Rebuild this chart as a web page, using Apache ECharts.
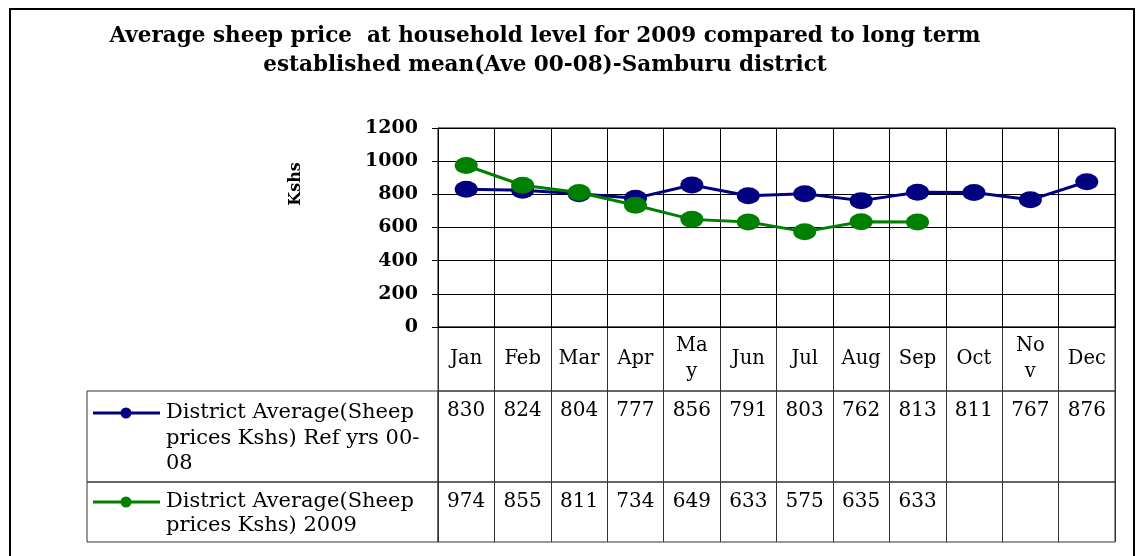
<!DOCTYPE html>
<html><head><meta charset="utf-8">
<script src="https://cdn.jsdelivr.net/npm/echarts@6/dist/echarts.min.js"></script>
<style>html,body{margin:0;padding:0;background:#fff}#c{width:1137px;height:556px}</style>
</head><body><div id="c"></div>
<script>
// ---- data ----
const months = ['Jan','Feb','Mar','Apr','May','Jun','Jul','Aug','Sep','Oct','Nov','Dec'];
const monthTickLabels = ['Jan','Feb','Mar','Apr','Ma\ny','Jun','Jul','Aug','Sep','Oct','No\nv','Dec'];
const refAvg = [830,824,804,777,856,791,803,762,813,811,767,876];
const avg2009 = [974,855,811,734,649,633,575,635,633,null,null,null];
const yTicks = [0,200,400,600,800,1000,1200];
const seriesNames = ['District Average(Sheep prices Kshs) Ref yrs 00-08','District Average(Sheep prices Kshs) 2009'];
const legendLabels = ['District Average(Sheep\nprices Kshs) Ref yrs 00-\n08','District Average(Sheep\nprices Kshs) 2009'];
const titleText = 'Average sheep price  at household level for 2009 compared to long term\nestablished mean(Ave 00-08)-Samburu district';
const yName = 'Kshs';

// ---- style ----
const SERIF = 'DejaVu Serif';
const BLUE = '#000080', GREEN = '#008000';
const GRID_C = '#000', TABLE_C = '#333';
const ELLIPSE = 'path://M50,0A50,50,0,1,1,50,100A50,50,0,1,1,50,0Z';
const PLOT = {left:438, width:677};

function tableAxis(gridIndex, labels, opts) {
  return Object.assign({
    gridIndex, type:'category', data: months, position:'top', boundaryGap:true,
    axisLine:{show:false}, axisTick:{show:false},
    axisLabel:{show:true, interval:0, inside:true, verticalAlign:'top', margin:10,
      fontFamily:SERIF, fontSize:20, color:'#000',
      formatter:(v,i)=> (labels[i]==null ? '' : String(labels[i]))},
    splitLine:{show:true, interval:0, lineStyle:{color:TABLE_C, width:1}}
  }, opts || {});
}

const chart = echarts.init(document.getElementById('c'), null, {renderer:'canvas'});
chart.setOption({
  animation:false,
  backgroundColor:'#fff',
  title:{
    text:titleText, left:545, top:22, textAlign:'center', padding:0,
    textStyle:{fontFamily:SERIF, fontWeight:'bold', fontSize:21.5, lineHeight:29, color:'#000'}
  },
  grid:[
    {left:PLOT.left, width:PLOT.width, top:128, height:199, show:true, borderColor:GRID_C, borderWidth:1},
    {left:PLOT.left, width:PLOT.width, top:327, height:64, show:true, borderColor:TABLE_C, borderWidth:1},
    {left:PLOT.left, width:PLOT.width, top:391, height:91, show:true, borderColor:TABLE_C, borderWidth:1},
    {left:PLOT.left, width:PLOT.width, top:482, height:60, show:true, borderColor:TABLE_C, borderWidth:1},
    {left:87, width:351, top:391, height:91, show:true, borderColor:TABLE_C, borderWidth:1},
    {left:87, width:351, top:482, height:60, show:true, borderColor:TABLE_C, borderWidth:1}
  ],
  xAxis:[
    {gridIndex:0, type:'category', data:months, boundaryGap:true,
     axisLine:{show:true, lineStyle:{color:GRID_C}}, axisTick:{show:false}, axisLabel:{show:false},
     splitLine:{show:true, interval:0, lineStyle:{color:GRID_C, width:1}}},
    tableAxis(1, monthTickLabels, {axisLabel:{show:true, interval:0, inside:true, verticalAlign:'middle', margin:32,
      fontFamily:SERIF, fontSize:19.5, color:'#000', lineHeight:26, formatter:(v,i)=>monthTickLabels[i]}}),
    tableAxis(2, refAvg),
    tableAxis(3, avg2009),
    {gridIndex:4, type:'value', show:false},
    {gridIndex:5, type:'value', show:false}
  ],
  yAxis:[
    {gridIndex:0, type:'value', min:yTicks[0], max:yTicks[yTicks.length-1], interval:yTicks[1]-yTicks[0],
     axisLine:{show:true, lineStyle:{color:GRID_C}},
     axisTick:{show:true, length:6, lineStyle:{color:GRID_C}},
     axisLabel:{margin:20, fontFamily:SERIF, fontWeight:'bold', fontSize:19, color:'#000', formatter:(v)=>String(v)},
     splitLine:{show:true, lineStyle:{color:GRID_C, width:1}},
     name:yName, nameLocation:'middle', nameGap:134, nameRotate:90,
     nameTextStyle:{fontFamily:SERIF, fontWeight:'bold', fontSize:16, color:'#000', padding:[0,0,0,87]}},
    {gridIndex:1, type:'value', show:false},
    {gridIndex:2, type:'value', show:false},
    {gridIndex:3, type:'value', show:false},
    {gridIndex:4, type:'value', show:false},
    {gridIndex:5, type:'value', show:false}
  ],
  series:[
    {name:seriesNames[0], type:'line', xAxisIndex:0, yAxisIndex:0, data:refAvg,
     color:BLUE, lineStyle:{color:BLUE, width:3}, itemStyle:{color:BLUE},
     symbol:ELLIPSE, symbolSize:[23,17], z:3},
    {name:seriesNames[1], type:'line', xAxisIndex:0, yAxisIndex:0, data:avg2009,
     color:GREEN, lineStyle:{color:GREEN, width:3}, itemStyle:{color:GREEN},
     symbol:ELLIPSE, symbolSize:[23,17], connectNulls:false, z:4}
  ],
  graphic:[
    {type:'rect', silent:true, shape:{x:10, y:9, width:1124, height:600}, style:{fill:'none', stroke:'#000', lineWidth:2}},
    {type:'line', silent:true, shape:{x1:93, y1:413, x2:160, y2:413}, style:{stroke:BLUE, lineWidth:3}},
    {type:'circle', silent:true, shape:{cx:126, cy:413, r:5.5}, style:{fill:BLUE}},
    {type:'text', silent:true, x:166, y:400, style:{text:legendLabels[0], fontFamily:SERIF, fontSize:21, lineHeight:25.5, fill:'#000', verticalAlign:'top', align:'left'}},
    {type:'line', silent:true, shape:{x1:93, y1:502, x2:160, y2:502}, style:{stroke:GREEN, lineWidth:3}},
    {type:'circle', silent:true, shape:{cx:126, cy:502, r:5.5}, style:{fill:GREEN}},
    {type:'text', silent:true, x:166, y:489, style:{text:legendLabels[1], fontFamily:SERIF, fontSize:21, lineHeight:24.5, fill:'#000', verticalAlign:'top', align:'left'}}
  ]
});
</script></body></html>
